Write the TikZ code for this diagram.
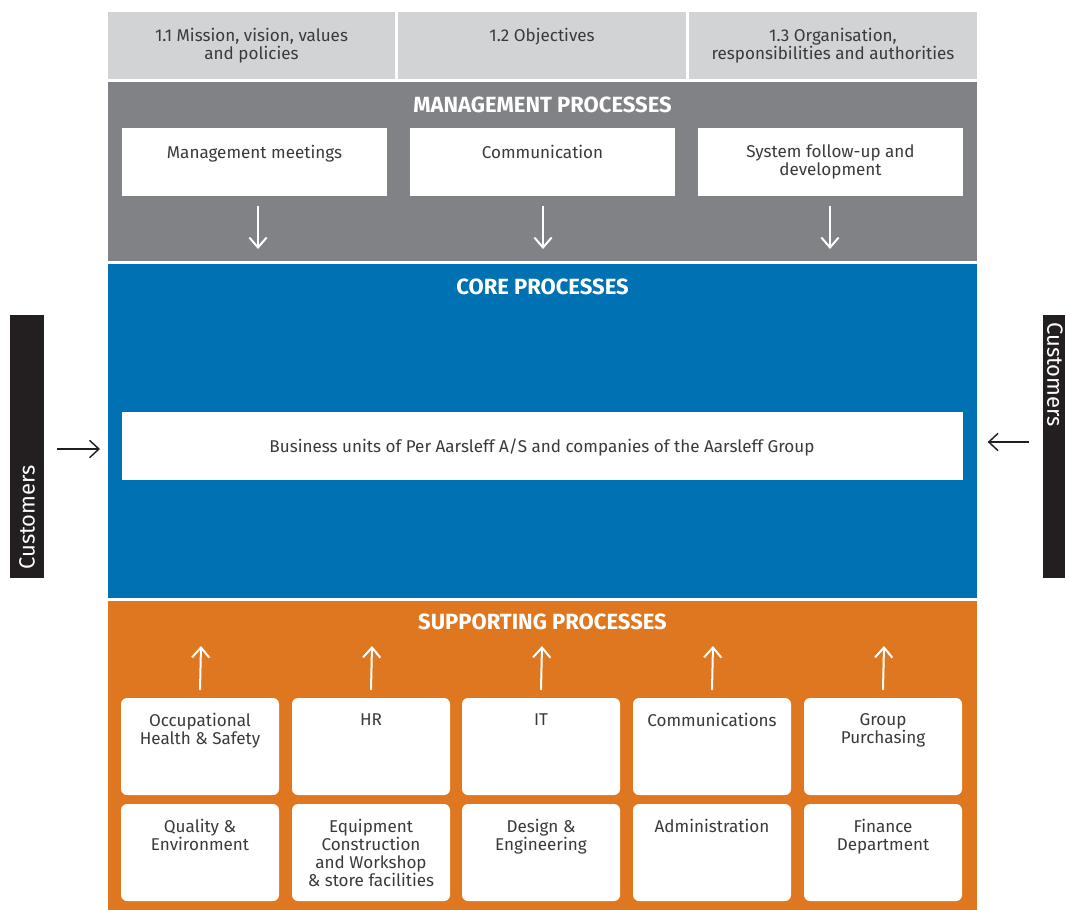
\documentclass[tikz,border=0pt]{standalone}
\usepackage{fontspec}
\setmainfont{Fira Sans}
\usetikzlibrary{arrows.meta}
\definecolor{lgrey}{HTML}{D1D3D4}
\definecolor{mgrey}{HTML}{808285}
\definecolor{coreblue}{HTML}{0071B3}
\definecolor{supor}{HTML}{DE771F}
\definecolor{txtgrey}{HTML}{3A3A3A}
\definecolor{barblack}{HTML}{231F20}
\newcommand\tstrut{\rule{0pt}{9.5pt}}
\begin{document}
\begin{tikzpicture}[x=0.75pt,y=-0.75pt,
  sz/.style 2 args={minimum width=#1*0.75pt, minimum height=#2*0.75pt, inner sep=0pt, outer sep=0pt},
  topbox/.style={fill=lgrey, draw=none},
  wbox/.style={fill=white, draw=none},
  rbox/.style={fill=white, draw=none, rounded corners=4.5pt},
  band/.style={draw=none},
  txt/.style={text=txtgrey, font=\fontsize{12.8}{13.5}\selectfont, align=center, inner sep=0pt, anchor=north},
  title/.style={text=white, font=\fontsize{16.5}{18}\selectfont\bfseries, inner sep=0pt, anchor=base},
  warr/.style={draw=white, line width=1.5pt, -{Straight Barb[length=7.5pt,width=13pt,line width=1.5pt]}},
  barr/.style={draw=barblack, line width=1.1pt, -{Straight Barb[length=7pt,width=13pt,line width=1.1pt]}},
  custbar/.style={fill=barblack, draw=none},
  custtxt/.style={text=white, font=\fontsize{16.5}{18}\selectfont, inner sep=0pt}
]
\useasboundingbox (0,0) rectangle (1065,910);
\fill[white] (0,0) rectangle (1065,910);

% top grey boxes
\node[topbox, sz={287}{67}] (g1) at (251.5,45.5) {};
\node[topbox, sz={288}{67}] (g2) at (542,45.5) {};
\node[topbox, sz={288}{67}] (g3) at (833,45.5) {};
\node[txt] (g1t) at (251.5,27.5) {\tstrut 1.1 Mission, vision, values\\and policies};
\node[txt] (g2t) at (542,27.5) {\tstrut 1.2 Objectives};
\node[txt] (g3t) at (833,27.5) {\tstrut 1.3 Organisation,\\responsibilities and authorities};

% management band
\node[band, fill=mgrey, sz={869}{179}] (mband) at (542.5,171.5) {};
\node[title] (mtitle) at (542.5,112) {MANAGEMENT PROCESSES};
\node[wbox, sz={265}{68}] (m1) at (254.5,162) {};
\node[wbox, sz={265}{68}] (m2) at (542.5,162) {};
\node[wbox, sz={265}{68}] (m3) at (830.5,162) {};
\node[txt] (m1t) at (254.5,144.5) {\tstrut Management meetings};
\node[txt] (m2t) at (542.5,144.5) {\tstrut Communication};
\node[txt] (m3t) at (830.5,144.5) {\tstrut System follow-up and\\development};
\coordinate (ma1s) at (258,206); \coordinate (ma1e) at (258,249);
\coordinate (ma2s) at (543,206); \coordinate (ma2e) at (543,249);
\coordinate (ma3s) at (830,206); \coordinate (ma3e) at (830,249);
\draw[warr] (ma1s) -- (ma1e);
\draw[warr] (ma2s) -- (ma2e);
\draw[warr] (ma3s) -- (ma3e);

% core band
\node[band, fill=coreblue, sz={869}{334}] (cband) at (542.5,431) {};
\node[title] (ctitle) at (542.5,294) {CORE PROCESSES};
\node[wbox, sz={841}{68}] (core) at (542.5,446) {};
\node[txt, anchor=base] (coret) at (542,452) {Business units of Per Aarsleff A/S and companies of the Aarsleff Group};

% customers
\node[custbar, sz={34}{263}] (cl) at (27,446.5) {};
\node[custtxt, rotate=90, anchor=west] (clt) at (27,570) {Customers};
\node[custbar, sz={24}{263}] (cr) at (1055,446.5) {};
\node[custtxt, rotate=-90, anchor=west] (crt) at (1055,322) {Customers};
\coordinate (al) at (57,449);
\coordinate (ar) at (1029,442);
\draw[barr] (al) -- ([xshift=-6pt]cband.west |- al);
\draw[barr] (ar) -- ([xshift=8pt]cband.east |- ar);

% supporting band
\node[band, fill=supor, sz={869}{309}] (sband) at (542.5,755.5) {};
\node[title] (stitle) at (542.5,629) {SUPPORTING PROCESSES};

\foreach \i/\cx in {1/200, 2/371, 3/541, 4/712, 5/883} {
  \node[rbox, sz={158}{97}] (s\i) at (\cx,746.5) {};
  \node[rbox, sz={158}{97}] (u\i) at (\cx,852.5) {};
  \coordinate (sa\i) at (\cx+1,646);
  \draw[warr] ([yshift=6pt]s\i.north) -- (sa\i);
}
\node[txt] (s1t) at (200,712.5) {\tstrut Occupational\\Health \& Safety};
\node[txt] (s2t) at (371,712.5) {\tstrut HR};
\node[txt] (s3t) at (541,712.5) {\tstrut IT};
\node[txt] (s4t) at (712,712.5) {\tstrut Communications};
\node[txt] (s5t) at (883,712.5) {\tstrut Group\\Purchasing};
\node[txt] (u1t) at (200,818.5) {\tstrut Quality \&\\Environment};
\node[txt] (u2t) at (371,818.5) {\tstrut Equipment\\Construction\\and Workshop\\\& store facilities};
\node[txt] (u3t) at (541,818.5) {\tstrut Design \&\\Engineering};
\node[txt] (u4t) at (712,818.5) {\tstrut Administration};
\node[txt] (u5t) at (883,818.5) {\tstrut Finance\\Department};
\end{tikzpicture}
\end{document}
